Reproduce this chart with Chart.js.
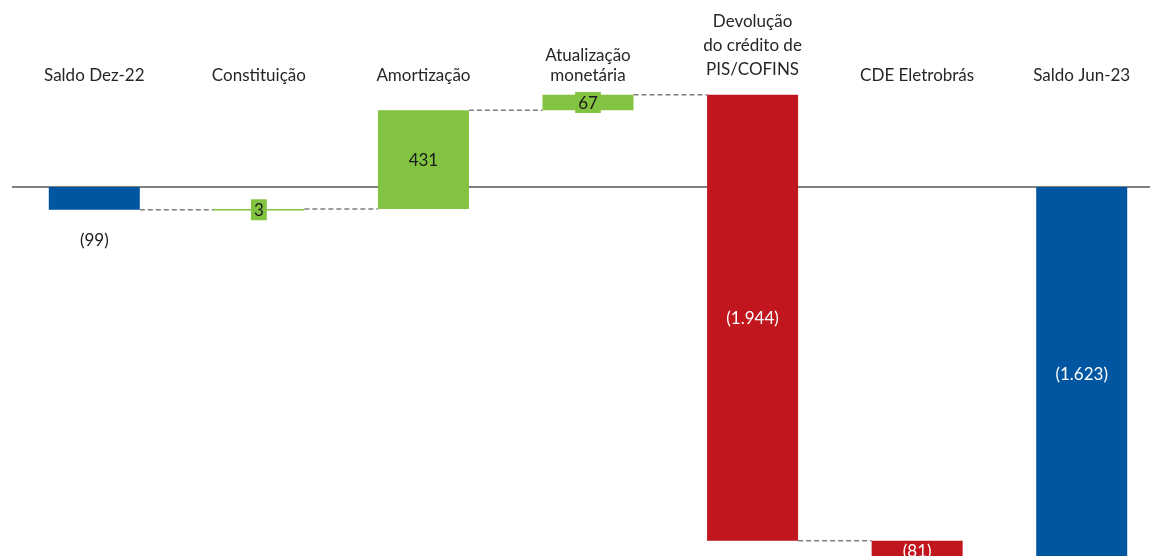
<!DOCTYPE html>
<html lang="pt-BR">
<head>
<meta charset="utf-8">
<script src="https://cdn.jsdelivr.net/npm/chart.js@4.4.1/dist/chart.umd.min.js"></script>
<style>
    html, body { margin: 0; padding: 0; background: #fff; overflow: hidden; }
    #wrap { width: 1164px; height: 600px; }
</style>
</head>
<body>
<div id="wrap"><canvas id="grafico" width="1164" height="600"></canvas></div>
<script>
// Dados do gráfico (em R$ milhões)
const categorias = [
    ['Saldo Dez-22'],
    ['Constituição'],
    ['Amortização'],
    ['Atualização', 'monetária'],
    ['Devolução', 'do crédito de', 'PIS/COFINS'],
    ['CDE Eletrobrás'],
    ['Saldo Jun-23']
];
const valores = [-99, 3, 431, 67, -1944, -81, -1623];
const tipos = ['saldo', 'var', 'var', 'var', 'var', 'var', 'saldo'];
const rotulos = ['(99)', '3', '431', '67', '(1.944)', '(81)', '(1.623)'];

const AZUL = '#0156A2';
const VERDE = '#82C341';
const VERMELHO = '#C1161D';
const CINZA = '#7f7f7f';
const FONTE = 'Lato, "Open Sans", sans-serif';


function montarIntervalos(valores, tipos) {
    /**
     * Transforma os valores em barras flutuantes [início, fim] da cascata.
     */
    let acumulado = 0;
    return valores.map((v, i) => {
        if (tipos[i] === 'saldo') {
            acumulado = v;
            return [0, v];
        }
        const inicio = acumulado;
        acumulado += v;
        return [inicio, acumulado];
    });
}

function corDaBarra(v, i) {
    if (tipos[i] === 'saldo') return AZUL;
    return v >= 0 ? VERDE : VERMELHO;
}

const intervalos = montarIntervalos(valores, tipos);

// Linha do zero, conectores tracejados, nomes das categorias e rótulos
const desenhoCascata = {
    id: 'desenhoCascata',
    beforeDatasetsDraw(chart) {
        const { ctx, chartArea, scales } = chart;
        const y0 = scales.y.getPixelForValue(0);
        ctx.save();
        ctx.strokeStyle = CINZA;
        ctx.lineWidth = 2;
        ctx.beginPath();
        ctx.moveTo(chartArea.left, y0);
        ctx.lineTo(chartArea.right, y0);
        ctx.stroke();

        const barras = chart.getDatasetMeta(0).data;
        ctx.lineWidth = 1.5;
        ctx.setLineDash([5, 3]);
        for (let i = 0; i < barras.length - 1; i++) {
            const nivel = intervalos[i][1];
            const y = scales.y.getPixelForValue(nivel);
            const a = barras[i], b = barras[i + 1];
            ctx.beginPath();
            ctx.moveTo(a.x + a.width / 2, y);
            ctx.lineTo(b.x - b.width / 2, y);
            ctx.stroke();
        }
        ctx.restore();
    },
    afterDatasetsDraw(chart) {
        const { ctx, scales } = chart;
        const barras = chart.getDatasetMeta(0).data;
        ctx.save();
        ctx.font = '17px ' + FONTE;
        ctx.textAlign = 'center';
        ctx.textBaseline = 'middle';

        // nomes das categorias acima das barras
        ctx.fillStyle = '#262626';
        categorias.forEach((linhas, i) => {
            const x = scales.x.getPixelForValue(i);
            const n = linhas.length;
            const passo = n > 2 ? 24 : 20;
            const base = n > 2 ? 70 : 76;
            linhas.forEach((t, j) => {
                ctx.fillText(t, x, base - (n - 1 - j) * passo);
            });
        });

        // rótulos de valor
        barras.forEach((barra, i) => {
            const topo = Math.min(barra.y, barra.base);
            const fundo = Math.max(barra.y, barra.base);
            const altura = fundo - topo;
            const y = (topo + fundo) / 2;
            const txt = rotulos[i];
            if (tipos[i] === 'saldo' && altura < 30) {
                ctx.fillStyle = '#1a1a1a';
                ctx.fillText(txt, barra.x, fundo + 31);
                return;
            }
            if (valores[i] >= 0) {
                if (altura < 22) {
                    const w = ctx.measureText(txt).width + 6;
                    ctx.fillStyle = VERDE;
                    ctx.fillRect(barra.x - w / 2, y - 10.5, w, 21);
                }
                ctx.fillStyle = '#1a1a1a';
            } else {
                ctx.fillStyle = '#ffffff';
            }
            ctx.fillText(txt, barra.x, y + 1);
        });
        ctx.restore();
    }
};

new Chart(document.getElementById('grafico'), {
    type: 'bar',
    data: {
        labels: categorias,
        datasets: [{
            data: intervalos,
            backgroundColor: valores.map(corDaBarra),
            borderWidth: 0,
            borderSkipped: false,
            minBarLength: 1.5,
            barPercentage: 0.553,
            categoryPercentage: 1
        }]
    },
    options: {
        responsive: false,
        animation: false,
        layout: { padding: { left: 12, right: 0, top: 0, bottom: 0 } },
        plugins: {
            legend: { display: false },
            tooltip: { enabled: false }
        },
        scales: {
            x: { display: false, offset: true },
            y: { display: false, min: -1800, max: 815 }
        }
    },
    plugins: [desenhoCascata]
});
</script>
</body>
</html>
